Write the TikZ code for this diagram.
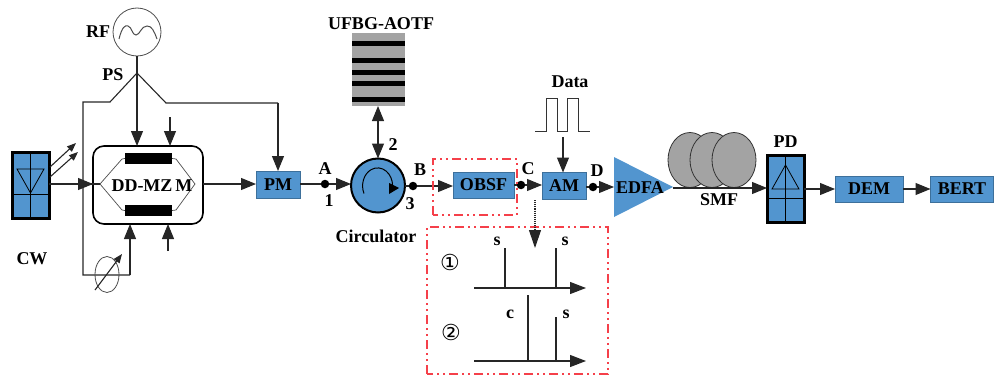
\documentclass[tikz,border=0pt]{standalone}
\usepackage{fontspec}
\setmainfont{Liberation Serif}
\newfontfamily\circledfont{DejaVu Sans}
\usetikzlibrary{arrows.meta,positioning,shapes.geometric}
\definecolor{blockblue}{HTML}{5295CF}
\definecolor{framered}{HTML}{F5404A}
\definecolor{coilgray}{HTML}{A3A3A3}
\tikzset{
  lbl/.style={inner sep=0pt,outer sep=0pt,font=\fontsize{18}{18}\selectfont\bfseries},
  sig/.style={line width=1.1pt,draw=black!85},
  arr/.style={sig,-{Triangle[length=15pt,width=12pt]}},
  smallarr/.style={sig,-{Triangle[length=9pt,width=7pt]}},
  blockbox/.style={rectangle,lbl,fill=blockblue,draw=blockblue!75!black,line width=0.6pt},
  detbox/.style={rectangle,fill=blockblue,draw=black,line width=3pt,inner sep=0pt,outer sep=0pt},
  tap/.style={circle,fill=black,inner sep=0pt,outer sep=0pt,minimum size=8.5pt},
  redframe/.style={draw=framered,line width=1.3pt,line cap=butt,
    dash pattern=on 9pt off 4pt on 2pt off 4pt on 2pt off 4pt}
}

\begin{document}
\begin{tikzpicture}
    \useasboundingbox (0,0) rectangle (994pt,376pt);
    \begin{scope}[x=1pt,y=1pt]
        % Main blocks on the optical path
        \node [detbox,minimum width=37pt,minimum height=66pt] (cw) at (30.5,191) {};
        \node [draw,rounded corners=11pt,line width=1.6pt,inner sep=0pt,outer sep=0pt,
               minimum width=110pt,minimum height=78pt] (mzm) at (148,191) {};
        \node [blockbox,minimum width=44pt,minimum height=27pt] (pm) at (278,191.5) {PM};
        \node [circle,fill=blockblue,draw=black,line width=2pt,inner sep=0pt,outer sep=0pt,
               minimum size=54pt] (circ) at (378,190.5) {};
        \node [blockbox,minimum width=61pt,minimum height=26pt] (obsf) at (483.5,191) {OBSF};
        \node [blockbox,minimum width=44pt,minimum height=27pt] (am) at (564,190) {AM};
        \node [detbox,minimum width=37pt,minimum height=67pt] (pd) at (785.5,187.5) {};
        \node [blockbox,minimum width=68pt,minimum height=26pt] (dem) at (869,187) {DEM};
        \node [blockbox,minimum width=63pt,minimum height=26pt] (bert) at (962,187) {BERT};

        % Tap points
        \node [tap] (tapa) at (325,192) {};
        \node [tap] (tapb) at (413,190) {};
        \node [tap] (tapc) at (521,191) {};
        \node [tap] (tapd) at (593,189) {};

        % Laser and detector insides
        \draw [line width=0.8pt] (cw.north) -- (cw.south);
        \draw [line width=0.8pt] (cw.west |- 0,182) -- (cw.east |- 0,182);
        \draw [line width=0.8pt] (17,207) -- (44,207) -- (30.5,183) -- cycle;
        \draw [line width=0.8pt] (pd.north) -- (pd.south);
        \draw [line width=0.8pt] (pd.west |- 0,178) -- (pd.east |- 0,178);
        \draw [line width=0.8pt] (772,187) -- (799,187) -- (785.5,211) -- cycle;
        \coordinate (beama) at (76,233);
        \coordinate (beamb) at (78,224);
        \draw [smallarr] (50,209) -- (beama);
        \draw [smallarr] (50,199) -- (beamb);

        % RF source and phase shifter
        \node [circle,draw=black!70,line width=0.8pt,fill=white,inner sep=0pt,outer sep=0pt,
               minimum size=48pt] (rf) at (137,344) {};
        \draw [line width=1pt,black!70] (119,337) .. controls (122,349) and (125,351) .. (128,350)
            .. controls (132,349) and (132,341) .. (136,341)
            .. controls (140,341) and (141,350) .. (147,350)
            .. controls (152,350) and (154,345) .. (157,337);
        \coordinate (ps) at (137,303);
        \coordinate (psleft) at (110,274);
        \coordinate (psright) at (166,273);
        \coordinate (leftrail) at (83,274);
        \coordinate (rightrail) at (278,273);
        \coordinate (railfoot) at (83,101);
        \coordinate (shifterfoot) at (130,101);
        \draw [sig] (rf.south) -- (ps);
        \draw [sig] (ps) -- (psleft) -- (leftrail) -- (railfoot) -- (shifterfoot);
        \draw [arr] (shifterfoot) -- (mzm.south -| shifterfoot);
        \draw [sig] (ps) -- (psright) -- (rightrail);
        \draw [arr] (rightrail) -- (pm.north);
        \draw [arr] (ps) -- (mzm.north -| ps);
        \node [ellipse,draw=black!70,line width=0.8pt,minimum width=24pt,minimum height=36pt,
               inner sep=0pt] (shifter) at (107,101.5) {};
        \coordinate (knobfoot) at (95,86);
        \coordinate (knobtip) at (122,122);
        \draw [smallarr] (knobfoot) -- (knobtip);
        \coordinate (biasa) at (170,259);
        \coordinate (biasb) at (168,125);
        \draw [arr] (biasa) -- (mzm.north -| biasa);
        \draw [arr] (biasb) -- (mzm.south -| biasb);

        % Modulator insides
        \node [fill=black,minimum width=47pt,minimum height=11pt,inner sep=0pt] (armtop) at (148.5,217.5) {};
        \node [fill=black,minimum width=47pt,minimum height=11pt,inner sep=0pt] (armbot) at (148.5,165.5) {};
        \coordinate (mzmin) at (100,192);
        \coordinate (mzmout) at (195,192);
        \draw [line width=0.7pt,black!70] (armtop.west) -- (122,217) -- (mzmin) -- (122,166) -- (armbot.west);
        \draw [line width=0.7pt,black!70] (armtop.east) -- (176,217) -- (mzmout) -- (176,166) -- (armbot.east);
        \node [lbl] (mzmtext) at (152,190.5) {DD-MZ\,M};

        % Optical path
        \coordinate (railcross) at (93,192);
        \draw [sig] (cw.east |- mzmin) -- (mzmin);
        \draw [arr] (cw.east |- railcross) -- (railcross);
        \draw [arr] (mzm.east |- 0,192) -- (pm.west |- 0,192);
        \draw [sig] (pm.east |- tapa) -- (tapa);
        \draw [arr] (tapa) -- (circ.west |- tapa);
        \draw [arr] (tapb) -- (obsf.west |- tapb);
        \draw [sig] (circ.east |- tapb) -- (tapb);
        \draw [arr] (tapc) -- (am.west |- tapc);
        \draw [sig] (obsf.east |- tapc) -- (tapc);
        \draw [sig] (am.east |- tapd) -- (tapd);

        % Tunable filter
        \node [fill=coilgray,minimum width=53pt,minimum height=73pt,inner sep=0pt,outer sep=0pt] (ufbg) at (378,306.5) {};
        \foreach \ypos in {333,316,304,293,277}
            \fill (ufbg.west |- 0,\ypos-2.5) rectangle (ufbg.east |- 0,\ypos+2.5);
        \draw [sig,{Triangle[length=15pt,width=12pt]}-{Triangle[length=15pt,width=12pt]}] (ufbg.south) -- (circ.north);

        % Direction mark of the circulator
        \draw [line width=1pt] (364,182.5) arc [start angle=205,end angle=0,x radius=15,y radius=18];
        \fill (389,193) -- (389,182) -- (399,188) -- cycle;

        % Amplifier and fibre
        \node [ellipse,draw=black!80,fill=coilgray,line width=0.8pt,minimum width=44pt,minimum height=55pt,inner sep=0pt] (coila) at (690,216) {};
        \node [ellipse,draw=black!80,fill=coilgray,line width=0.8pt,minimum width=44pt,minimum height=55pt,inner sep=0pt] (coilb) at (712,216) {};
        \node [ellipse,draw=black!80,fill=coilgray,line width=0.8pt,minimum width=44pt,minimum height=55pt,inner sep=0pt] (coilc) at (734,216) {};
        \fill [blockblue] (614,219) -- (614,159) -- (673,189) -- cycle;
        \coordinate (edfaout) at (673,188);
        \node [lbl] (edfa) at (640,188) {EDFA};
        \draw [arr] (tapd) -- (614,189);
        \draw [arr] (edfaout) -- (pd.west |- edfaout);
        \draw [arr] (pd.east |- dem) -- (dem.west);
        \draw [arr] (dem.east) -- (bert.west);

        % Data pulses
        \coordinate (pulsetip) at (563,239);
        \draw [line width=0.8pt,black!80] (535,245) -- (546,245) -- (546,278) -- (557,278) -- (557,245)
            -- (567,245) -- (567,278) -- (578,278) -- (578,245) -- (590,245);
        \draw [arr] (pulsetip) -- (am.north -| pulsetip);

        % Spectrum insets
        \draw [redframe] (433,161) rectangle (517,217);
        \draw [redframe] (427,2) rectangle (608,149);
        \coordinate (drop) at (535,176);
        \coordinate (dropend) at (535,128);
        \draw [sig,densely dotted,line width=1.5pt] (drop) -- (535,146);
        \draw [arr,-{Triangle[length=18pt,width=12pt]}] (535,147) -- (dropend);
        \coordinate (axisa) at (474,88);
        \coordinate (axisb) at (474,15);
        \draw [sig,line width=1.2pt,-{Triangle[length=16pt,width=12pt]}] (axisa) -- ++(112,0);
        \draw [sig,line width=1.2pt,-{Triangle[length=16pt,width=12pt]}] (axisb) -- ++(112,0);
        \draw [sig] (505,88) -- (505,128);
        \draw [sig] (556,88) -- (556,128);
        \draw [sig] (528,15) -- (528,81);
        \draw [sig] (556,15) -- (556,59);
        \node [font=\circledfont\fontsize{22}{22}\selectfont,inner sep=0pt] (marka) at (450,114) {①};
        \node [font=\circledfont\fontsize{22}{22}\selectfont,inner sep=0pt] (markb) at (451,44) {②};
        \node [lbl] (sa) at (497,135) {s};
        \node [lbl] (sb) at (565,135) {s};
        \node [lbl] (cb) at (510,62) {c};
        \node [lbl] (sc) at (566,62) {s};

        % Labels
        \node [lbl,left=3pt of rf] (rflabel) {RF};
        \node [lbl] (pslabel) at (113,301) {PS};
        \node [lbl] (cwlabel) at (32,117) {CW};
        \node [lbl,above=5pt of tapa] (alabel) {A};
        \node [lbl,below=6pt of tapa,xshift=4pt] (onelabel) {1};
        \node [lbl,above=6pt of tapb,xshift=7pt] (blabel) {B};
        \node [lbl] (threelabel) at (410,172) {3};
        \node [lbl] (twolabel) at (393,231) {2};
        \node [lbl,above=6pt of tapc,xshift=7pt] (clabel) {C};
        \node [lbl,above=6pt of tapd,xshift=4pt] (dlabel) {D};
        \node [lbl] (circlabel) at (376,140) {Circulator};
        \node [lbl] (ufbglabel) at (381,352) {UFBG-AOTF};
        \node [lbl] (datalabel) at (570,294) {Data};
        \node [lbl] (smflabel) at (719,176) {SMF};
        \node [lbl,above=7pt of pd] (pdlabel) {PD};
    \end{scope}
\end{tikzpicture}
\end{document}
